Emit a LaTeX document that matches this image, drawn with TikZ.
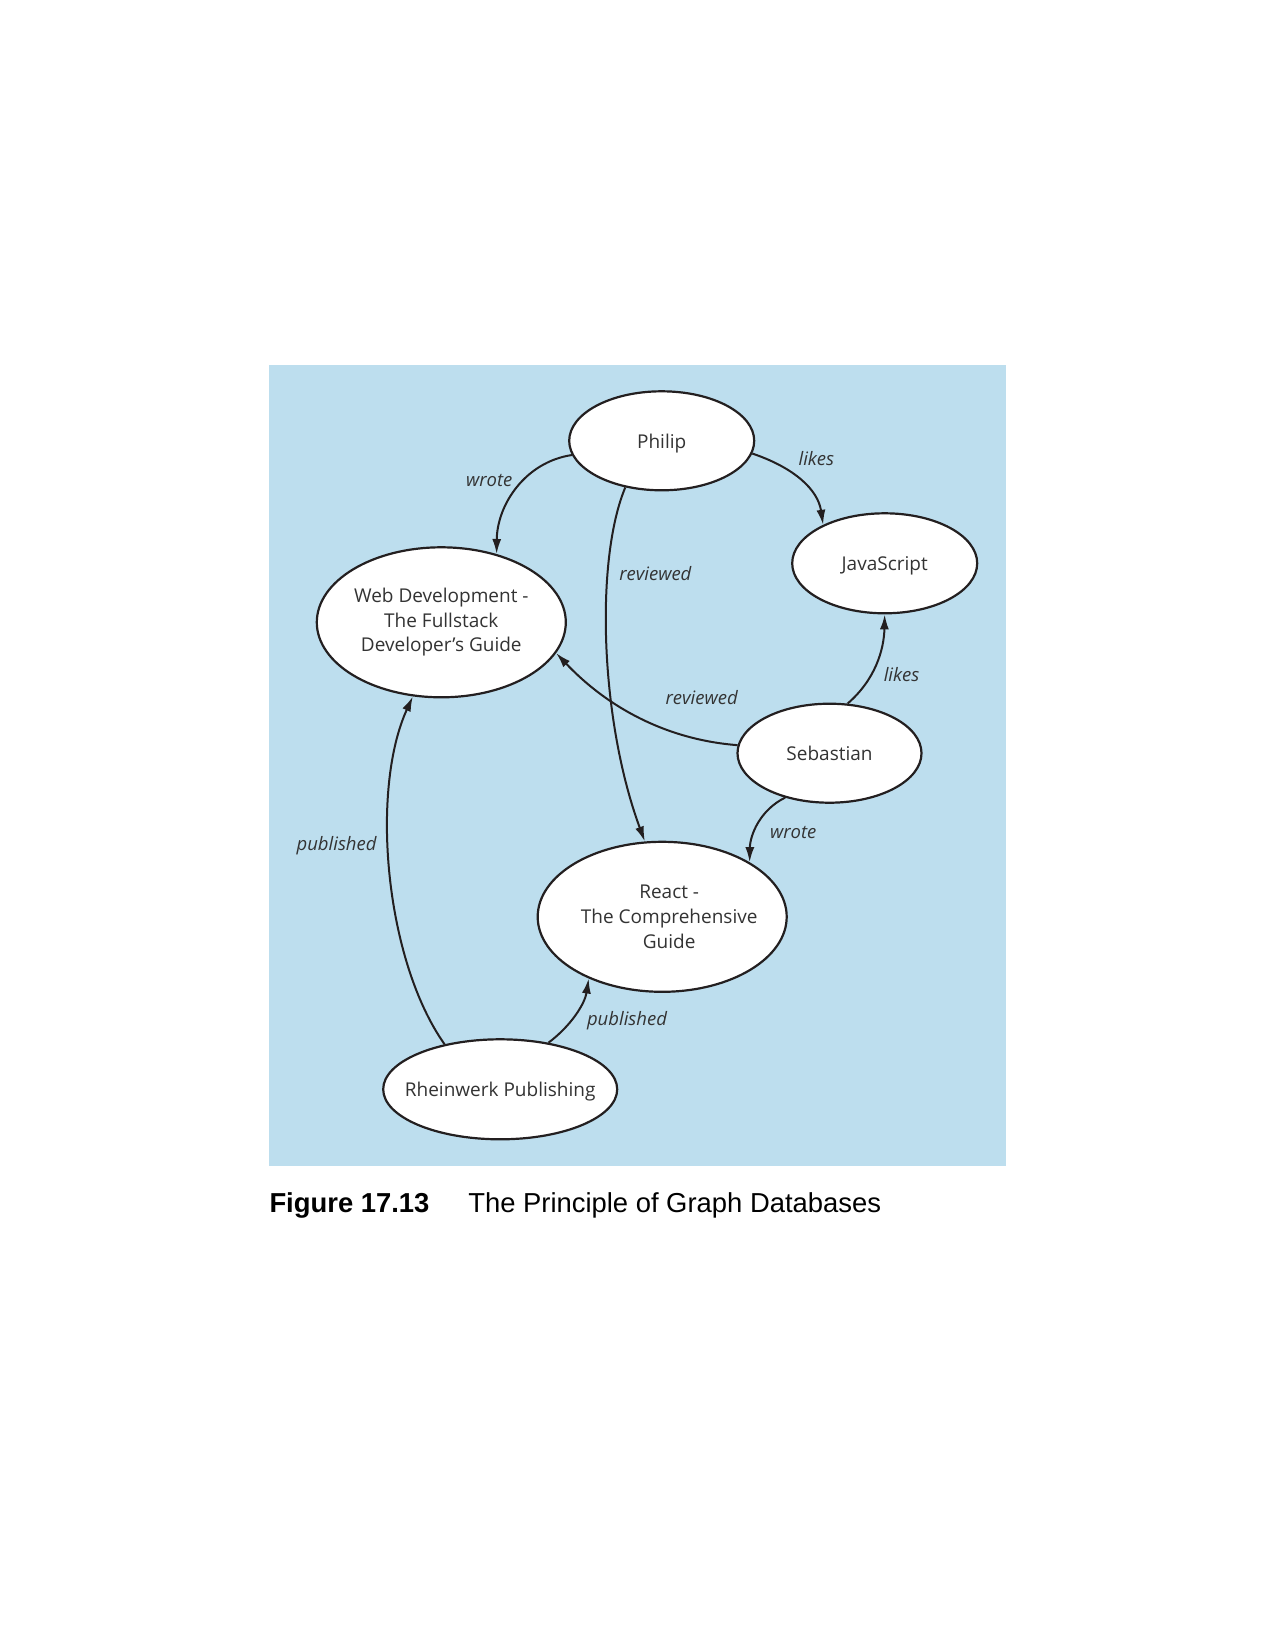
\documentclass[tikz,border=0pt]{standalone}
\usepackage{fontspec}
\setmainfont{Open Sans}
\newfontfamily\capfont{Liberation Sans}
\usetikzlibrary{shapes.geometric,arrows.meta}
\definecolor{bgblue}{RGB}{189,222,238}
\definecolor{inkc}{RGB}{35,31,32}
\definecolor{txtc}{RGB}{51,51,51}
\begin{document}
\begin{tikzpicture}[x=1pt,y=-1pt,
  gnode/.style={draw=inkc,fill=white,ellipse,line width=2.2pt,inner sep=0pt,
    text=txtc,align=center,font=\fontsize{19}{24.7}\selectfont},
  oneline/.style={text depth=0pt},
  edge/.style={draw=inkc,line width=2pt,-{Latex[length=15pt,width=9pt]}},
  elabel/.style={text=txtc,font=\fontsize{18.5}{22}\selectfont\itshape,inner sep=0pt}]
\useasboundingbox (0,0) rectangle (1275,1649);
\fill[white] (0,0) rectangle (1275,1649);
\fill[bgblue] (269.3,365) rectangle (1005.7,1165.6);

\node[gnode,oneline,minimum width=185pt,minimum height=99pt] (philip) at (661.7,440.8) {Philip};
\node[gnode,oneline,minimum width=185pt,minimum height=100pt] (js) at (884.7,563.3) {JavaScript};
\node[gnode,minimum width=249pt,minimum height=150pt] (webdev) at (441.3,622.3) {Web Development -\\The Fullstack\\Developer's Guide};
\node[gnode,oneline,minimum width=184pt,minimum height=99pt] (seb) at (829.5,753.2) {Sebastian};
\node[gnode,inner xsep=-15pt,minimum width=249pt,minimum height=150pt] (react) at (662.2,916.8) {\hspace*{14pt}React -\\\hspace*{14pt}The Comprehensive\\\hspace*{14pt}Guide};
\node[gnode,oneline,inner xsep=-25pt,minimum width=234pt,minimum height=100pt] (rh) at (500.2,1089.3) {Rheinwerk Publishing};

\draw[edge] (philip.189) .. controls (525,462) and (497,505) .. (webdev.51);
\draw[edge] (philip.-8) .. controls (795,468) and (818,490) .. (js.148);
\draw[edge] (philip.232) .. controls (595,560) and (600,720) .. (react.103);
\draw[edge] (seb.175) .. controls (670,740) and (610,710) .. (webdev.-15);
\draw[edge] (seb.70) .. controls (875,680) and (884,650) .. (js.south);
\draw[edge] (seb.225) .. controls (760,810) and (750,835) .. (react.32);
\draw[edge] (rh.141) .. controls (385,960) and (370,790) .. (webdev.249);
\draw[edge] (rh.44) .. controls (572,1025) and (585,1003) .. (react.220);

\node[elabel] (l1) at (489.2,480.8) {wrote};
\node[elabel] (l2) at (816.4,458.7) {likes};
\node[elabel] (l3) at (655.4,573.3) {reviewed};
\node[elabel] (l4) at (701.7,697.5) {reviewed};
\node[elabel] (l5) at (901.6,674.3) {likes};
\node[elabel] (l6) at (793.2,832.1) {wrote};
\node[elabel] (l7) at (336.6,845.8) {published};
\node[elabel] (l8) at (627,1020.4) {published};

\node[anchor=base west,inner sep=0pt,font=\capfont\bfseries\fontsize{27.4}{32}\selectfont] (cap1) at (269.3,1212) {Figure 17.13};
\node[anchor=base west,inner sep=0pt,font=\capfont\fontsize{27.4}{32}\selectfont] (cap2) at (468.1,1212) {The Principle of Graph Databases};
\end{tikzpicture}
\end{document}
